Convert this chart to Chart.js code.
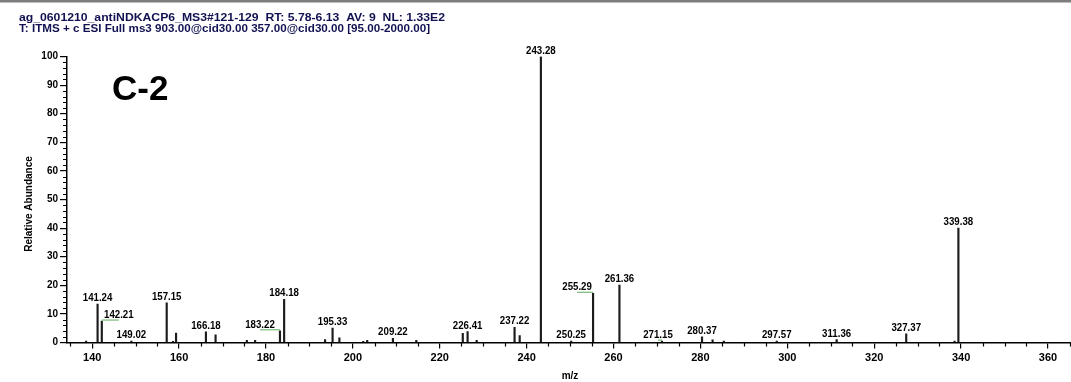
<!DOCTYPE html>
<html>
<head>
<meta charset="utf-8">
<script src="https://cdn.jsdelivr.net/npm/chart.js@4"></script>
<style>
  html, body { margin: 0; padding: 0; background: #fff; }
  #wrap { width: 1071px; height: 382px; position: relative; }
</style>
</head>
<body>
<div id="wrap"><canvas id="msChart" width="1071" height="382"></canvas></div>
<script>
// Spectrum data (m/z vs relative abundance)
const mz = [138.6, 141.24, 142.21, 149.02, 157.15, 158.6, 159.3, 166.18, 168.4, 175.6, 177.5,
  183.22, 184.18, 193.6, 195.33, 196.9, 202.4, 203.3, 209.22, 214.6, 225.3, 226.41, 228.5,
  237.22, 238.4, 243.28, 250.25, 255.29, 261.36, 271.15, 280.37, 282.8, 285.4, 297.57,
  311.36, 327.37, 338.5, 339.38];
const abundance = [0.5, 13.4, 7.5, 0.5, 13.9, 0.4, 3.3, 3.7, 2.7, 0.8, 0.8,
  4.1, 15.1, 1.0, 5.0, 1.6, 0.4, 0.8, 1.5, 0.8, 3.2, 3.8, 0.8,
  5.3, 2.4, 100, 0.5, 17.2, 20.1, 0.5, 2.0, 0.9, 0.5, 0.5,
  1.0, 3.0, 0.5, 40.0];
// peaks that carry an m/z label
const labelledPeaks = [141.24, 142.21, 149.02, 157.15, 166.18, 183.22, 184.18, 195.33, 209.22,
  226.41, 237.22, 243.28, 250.25, 255.29, 261.36, 271.15, 280.37, 297.57, 311.36, 327.37, 339.38];
const xTicks = [140, 160, 180, 200, 220, 240, 260, 280, 300, 320, 340, 360];
const yTicks = [0, 10, 20, 30, 40, 50, 60, 70, 80, 90, 100];

const headerLines = [
  'ag_0601210_antiNDKACP6_MS3#121-129  RT: 5.78-6.13  AV: 9  NL: 1.33E2',
  'T: ITMS + c ESI Full ms3 903.00@cid30.00 357.00@cid30.00 [95.00-2000.00]'
];
const panelTag = 'C-2';

const FONT = '"Liberation Sans", Arial, sans-serif';

// labels that are pushed sideways in the original (px)
const labelShift = { '142.21': 17, '183.22': -20, '255.29': -16, '271.15': -4 };

const decor = {
  id: 'decor',
  afterDraw(chart) {
    const ctx = chart.ctx;
    const xs = chart.scales.x, ys = chart.scales.y;
    const area = chart.chartArea;
    ctx.save();

    // top grey band
    ctx.fillStyle = '#7d7d7d';
    ctx.fillRect(0, 0, chart.width, 2.5);

    // header lines (squeezed to original width)
    const widths = [426, 411];
    const bases = [20.5, 32];
    ctx.fillStyle = '#121252';
    ctx.font = 'bold 10.5px ' + FONT;
    ctx.textBaseline = 'alphabetic';
    ctx.textAlign = 'left';
    headerLines.forEach((t, i) => {
      const w = ctx.measureText(t).width;
      ctx.save();
      ctx.translate(19, bases[i]);
      ctx.scale(widths[i] / w, 1);
      ctx.fillText(t, 0, 0);
      ctx.restore();
    });

    // panel tag
    ctx.fillStyle = '#000';
    ctx.font = 'bold 35px ' + FONT;
    ctx.fillText(panelTag, 112, 100);

    // axis titles
    ctx.font = 'bold 10px ' + FONT;
    ctx.textAlign = 'center';
    ctx.textBaseline = 'middle';
    ctx.fillText('m/z', 570, 376);
    ctx.save();
    ctx.translate(29, 204);
    ctx.rotate(-Math.PI / 2);
    ctx.fillText('Relative Abundance', 0, 0);
    ctx.restore();

    // minor ticks
    ctx.strokeStyle = '#000';
    ctx.lineWidth = 1.2;
    ctx.beginPath();
    for (let v = 135; v <= xs.max; v += 5) {
      if (v % 20 === 0) continue;
      const px = Math.round(xs.getPixelForValue(v)) + 0.5;
      ctx.moveTo(px, area.bottom);
      ctx.lineTo(px, area.bottom + 4);
    }
    for (let v = 2; v < 100; v += 2) {
      if (v % 10 === 0) continue;
      const py = Math.round(ys.getPixelForValue(v)) + 0.5;
      ctx.moveTo(area.left, py);
      ctx.lineTo(area.left - 4, py);
    }
    ctx.stroke();

    // peak labels
    ctx.font = 'bold 11px ' + FONT;
    ctx.textAlign = 'center';
    ctx.textBaseline = 'alphabetic';
    labelledPeaks.forEach(m => {
      const i = mz.indexOf(m);
      if (i < 0) return;
      const key = m.toFixed(2);
      const px = xs.getPixelForValue(m);
      const py = ys.getPixelForValue(abundance[i]);
      const dx = labelShift[key] || 0;
      const cx = px + dx;
      const base = py - 3;
      ctx.save();
      ctx.translate(cx, base);
      ctx.scale(0.88, 1);
      ctx.fillStyle = '#000';
      ctx.fillText(key, 0, 0);
      ctx.restore();
      if (dx !== 0) {
        ctx.strokeStyle = '#79b879';
        ctx.lineWidth = 1.2;
        ctx.beginPath();
        ctx.moveTo(cx, base + 2);
        ctx.lineTo(px, base + 2);
        ctx.stroke();
      }
    });
    ctx.restore();
  }
};

new Chart(document.getElementById('msChart').getContext('2d'), {
  type: 'bar',
  data: {
    datasets: [{
      data: mz.map((m, i) => ({ x: m, y: abundance[i] })),
      backgroundColor: '#1c1c1c',
      borderWidth: 0,
      barThickness: 1.5
    }]
  },
  options: {
    responsive: false,
    animation: false,
    events: [],
    layout: { padding: { top: 56.5, left: 0, right: 0, bottom: 0 } },
    plugins: { legend: { display: false }, tooltip: { enabled: false } },
    scales: {
      x: {
        type: 'linear',
        min: 134.2,
        max: 365.3,
        offset: false,
        grid: { offset: false, drawOnChartArea: false, tickLength: 6, color: '#000', lineWidth: 1.2 },
        border: { color: '#000', width: 1.5 },
        ticks: { stepSize: 20, color: '#000', padding: 3, maxRotation: 0,
                 font: { family: FONT, size: 11, weight: 'bold' } },
        afterBuildTicks(scale) {
          scale.ticks = xTicks.map(v => ({ value: v }));
        },
        afterFit(scale) { scale.height = 39.5; }
      },
      y: {
        min: 0,
        max: 100,
        grid: { drawOnChartArea: false, tickLength: 7, color: '#000', lineWidth: 1.2 },
        border: { color: '#000', width: 1.5 },
        ticks: { stepSize: 10, color: '#000', padding: 2,
                 font: { family: FONT, size: 10, weight: 'bold' } },
        afterBuildTicks(scale) {
          scale.ticks = yTicks.map(v => ({ value: v }));
        },
        afterFit(scale) { scale.width = 67; }
      }
    }
  },
  plugins: [decor]
});
</script>
</body>
</html>
